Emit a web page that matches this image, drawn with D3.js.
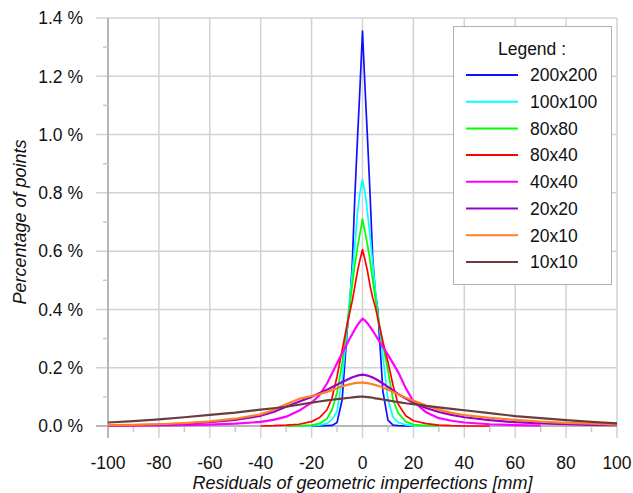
<!DOCTYPE html>
<html>
<head>
<meta charset="utf-8">
<script src="https://cdn.jsdelivr.net/npm/d3@7"></script>
<style>
  body { margin: 0; background: #fff; }
  text { font-family: "Liberation Sans", Arial, sans-serif; fill: #111; }
</style>
</head>
<body>
<div id="chart"></div>
<script>
var width = 633;
var height = 493;

// residual bins [mm]
var residuals = [-100, -90, -80, -70, -60, -50, -40, -35, -30, -25, -20, -17, -14, -12, -10, -8, -6, -5, -4, -3, -2, -1, 0,
                 1, 2, 3, 4, 5, 6, 8, 10, 12, 14, 17, 20, 25, 30, 35, 40, 50, 60, 70, 80, 90, 100];

// percentage of points per grid size (null = no data there)
var s200x200 = [null, null, null, null, null, null, null, null, null, null, 0, 0, 0.001, 0.002, 0.012, 0.09, 0.33, 0.42, 0.56, 0.79, 0.98, 1.16, 1.355,
                1.16, 0.98, 0.79, 0.58, 0.46, 0.40, 0.12, 0.02, 0.003, 0.001, 0, 0, null, null, null, null, null, null, null, null, null, null];
var s100x100 = [null, null, null, null, null, null, null, null, null, 0, 0.001, 0.003, 0.008, 0.022, 0.05, 0.16, 0.34, 0.44, 0.53, 0.62, 0.73, 0.80, 0.845,
                0.80, 0.73, 0.65, 0.56, 0.47, 0.39, 0.24, 0.09, 0.03, 0.012, 0.004, 0.001, 0, null, null, null, null, null, null, null, null, null];
var s80x80 = [null, null, null, null, null, null, null, null, 0, 0.001, 0.003, 0.008, 0.025, 0.055, 0.115, 0.215, 0.35, 0.415, 0.485, 0.555, 0.61, 0.66, 0.71,
              0.665, 0.62, 0.565, 0.50, 0.44, 0.38, 0.28, 0.19, 0.09, 0.045, 0.015, 0.005, 0.001, 0, null, null, null, null, null, null, null, null];
var s80x40 = [null, null, null, null, null, null, 0, 0.001, 0.003, 0.006, 0.015, 0.028, 0.055, 0.095, 0.17, 0.26, 0.35, 0.39, 0.43, 0.48, 0.53, 0.57, 0.605,
              0.57, 0.53, 0.48, 0.44, 0.41, 0.37, 0.29, 0.22, 0.14, 0.075, 0.035, 0.018, 0.008, 0.003, 0.001, 0, 0, null, null, null, null, null];
var s40x40 = [0.001, 0.001, 0.002, 0.003, 0.005, 0.008, 0.014, 0.021, 0.032, 0.052, 0.08, 0.105, 0.145, 0.18, 0.215, 0.25, 0.283, 0.30, 0.316, 0.332, 0.346, 0.358, 0.368,
              0.362, 0.352, 0.34, 0.327, 0.313, 0.299, 0.272, 0.245, 0.215, 0.185, 0.13, 0.085, 0.047, 0.027, 0.018, 0.012, 0.006, 0.003, 0.001, null, null, null];
var s20x20 = [0.002, 0.003, 0.005, 0.008, 0.013, 0.021, 0.035, 0.048, 0.066, 0.083, 0.10, 0.112, 0.124, 0.133, 0.142, 0.151, 0.159, 0.163, 0.167, 0.17, 0.173, 0.175, 0.176,
              0.175, 0.173, 0.17, 0.166, 0.162, 0.157, 0.146, 0.134, 0.122, 0.11, 0.094, 0.08, 0.062, 0.048, 0.038, 0.03, 0.02, 0.013, 0.009, 0.006, 0.004, 0.003];
var s20x10 = [0.003, 0.004, 0.006, 0.01, 0.016, 0.025, 0.04, 0.055, 0.075, 0.093, 0.103, 0.109, 0.117, 0.123, 0.13, 0.136, 0.141, 0.143, 0.145, 0.147, 0.148, 0.149, 0.149,
              0.148, 0.147, 0.145, 0.143, 0.141, 0.138, 0.132, 0.125, 0.117, 0.109, 0.097, 0.087, 0.07, 0.056, 0.045, 0.037, 0.028, 0.021, 0.015, 0.011, 0.008, 0.005];
var s10x10 = [0.012, 0.017, 0.023, 0.03, 0.038, 0.046, 0.056, 0.061, 0.066, 0.073, 0.08, 0.084, 0.088, 0.09, 0.092, 0.094, 0.096, 0.097, 0.098, 0.099, 0.1, 0.101, 0.101,
              0.1, 0.099, 0.098, 0.097, 0.095, 0.094, 0.091, 0.088, 0.085, 0.082, 0.078, 0.075, 0.069, 0.064, 0.059, 0.054, 0.044, 0.034, 0.027, 0.02, 0.014, 0.009];

var seriesNames = ["200x200", "100x100", "80x80", "80x40", "40x40", "20x20", "20x10", "10x10"];
var seriesValues = [s200x200, s100x100, s80x80, s80x40, s40x40, s20x20, s20x10, s10x10];
var seriesColors = ["#1010ff", "#00ffff", "#00ff00", "#ff0000", "#ff00ff", "#9900cc", "#ff7f27", "#6b3c3c"];

var xTicks = [-100, -80, -60, -40, -20, 0, 20, 40, 60, 80, 100];
var xMinor = [-90, -70, -50, -30, -10, 10, 30, 50, 70, 90];
var yTicks = [0, 0.2, 0.4, 0.6, 0.8, 1.0, 1.2, 1.4];
var yMinor = [0.1, 0.3, 0.5, 0.7, 0.9, 1.1, 1.3];

var svg = d3.select("#chart")
    .append("svg")
    .attr("width", width)
    .attr("height", height)

var x = d3.scaleLinear().domain([-100, 100]).range([108, 617]);
var y = d3.scaleLinear().domain([0, 1.4]).range([426, 18]);

// grid
var grid = svg.append('g')
grid.selectAll('line.h').data(yTicks).enter().append('line')
    .attr('x1', 96).attr('x2', x(100))
    .attr('y1', d => y(d)).attr('y2', d => y(d))
    .attr('stroke', '#d2d2d2').attr('stroke-width', 1.5)
grid.selectAll('line.v').data(xTicks).enter().append('line')
    .attr('x1', d => x(d)).attr('x2', d => x(d))
    .attr('y1', y(1.4)).attr('y2', 438)
    .attr('stroke', '#d2d2d2').attr('stroke-width', 1.5)

// axes lines + minor ticks
svg.append('line')
    .attr('x1', x(-100)).attr('x2', x(-100)).attr('y1', y(1.4)).attr('y2', 438)
    .attr('stroke', '#a8a8a8').attr('stroke-width', 1.5)
svg.append('line')
    .attr('x1', 96).attr('x2', x(100)).attr('y1', y(0)).attr('y2', y(0))
    .attr('stroke', '#a8a8a8').attr('stroke-width', 1.5)
svg.selectAll('line.ym').data(yMinor).enter().append('line')
    .attr('x1', 103).attr('x2', x(-100))
    .attr('y1', d => y(d)).attr('y2', d => y(d))
    .attr('stroke', '#c8c8c8').attr('stroke-width', 1.5)
svg.selectAll('line.xm').data(xMinor).enter().append('line')
    .attr('x1', d => x(d)).attr('x2', d => x(d))
    .attr('y1', y(0)).attr('y2', 432)
    .attr('stroke', '#c8c8c8').attr('stroke-width', 1.5)

// tick labels
svg.selectAll('text.yl').data(yTicks).enter().append('text')
    .attr('x', 83).attr('y', d => y(d)).attr('dy', '0.36em')
    .attr('text-anchor', 'end').style('font-size', '17.5px')
    .text(d => d3.format('.1f')(d) + ' %')
svg.selectAll('text.xl').data(xTicks).enter().append('text')
    .attr('x', d => x(d)).attr('y', 469)
    .attr('text-anchor', 'middle').style('font-size', '17.5px')
    .text(d => d)

// axis titles
svg.append('text')
    .attr('x', (x(-100) + x(100)) / 2).attr('y', 489)
    .attr('text-anchor', 'middle').style('font-size', '18px').style('font-style', 'italic')
    .text('Residuals of geometric imperfections [mm]')
svg.append('text')
    .attr('transform', 'translate(26,' + (y(0) + y(1.4)) / 2 + ') rotate(-90)')
    .attr('text-anchor', 'middle').style('font-size', '18px').style('font-style', 'italic')
    .text('Percentage of points')

// curves
var line = d3.line()
    .defined(d => d[1] != null)
    .x(d => x(d[0]))
    .y(d => y(d[1]))

seriesValues.forEach(function(vals, i) {
    var pts = residuals.map((r, j) => [r, vals[j]])
    svg.append('path')
        .attr('d', line(pts))
        .attr('fill', 'none')
        .attr('stroke', seriesColors[i])
        .attr('stroke-width', i >= 4 ? 2.2 : 1.7)
        .attr('stroke-linejoin', 'round')
})

// legend
var legend = svg.append('g')
legend.append('rect')
    .attr('x', 453.5).attr('y', 26.5).attr('width', 158).attr('height', 258)
    .attr('fill', '#fff').attr('stroke', '#b0b0b0').attr('stroke-width', 1)
legend.append('text')
    .attr('x', 532).attr('y', 55)
    .attr('text-anchor', 'middle').style('font-size', '17.5px')
    .text('Legend :')
seriesNames.forEach(function(name, i) {
    var ly = 75 + i * 26.7
    legend.append('line')
        .attr('x1', 466).attr('x2', 518).attr('y1', ly).attr('y2', ly)
        .attr('stroke', seriesColors[i]).attr('stroke-width', 2)
    legend.append('text')
        .attr('x', 530).attr('y', ly).attr('dy', '0.36em')
        .style('font-size', '17.5px')
        .text(name)
})
</script>
</body>
</html>
